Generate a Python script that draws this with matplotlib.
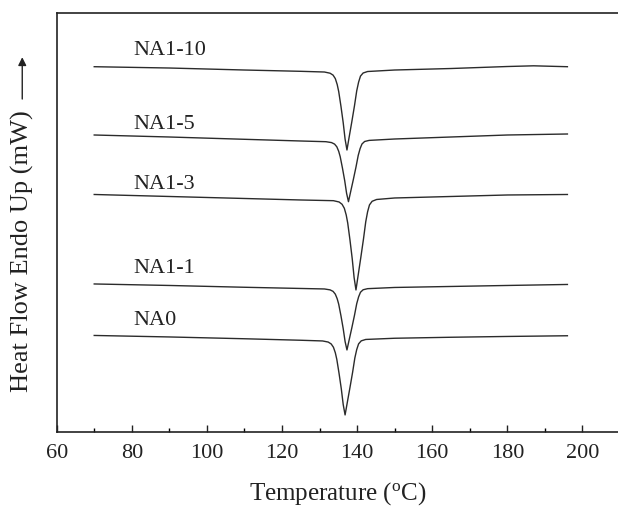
import matplotlib
matplotlib.use('Agg')
import matplotlib.pyplot as plt

plt.rcParams['font.family'] = ['Liberation Serif', 'DejaVu Serif']

# temperature (degC) and heat flow (a.u., offset per curve)
t_na1_10 = [70, 90, 110, 125, 131.3, 132.8, 133.6, 134.2, 134.7, 135.1, 135.7, 136.3, 136.8,
            137.3, 137.8, 138.6, 139.3, 139.9, 140.4, 140.9, 141.6, 142.8, 150, 165, 180, 187, 196]
hf_na1_10 = [365.0, 363.7, 361.7, 360.4, 359.7, 358.5, 356.6, 353.1, 347.2, 340.2, 325.4, 309.0, 292.6,
             281.7, 292.8, 310.1, 325.9, 340.9, 349.6, 355.6, 358.7, 360.2, 361.7, 363.2, 365.2, 365.9, 365.0]

t_na1_5 = [70, 90, 110, 125, 131.7, 133.2, 134.0, 134.6, 135.1, 135.5, 136.1, 136.7, 137.2,
           137.7, 138.2, 139.0, 139.7, 140.3, 140.8, 141.3, 142.0, 143.2, 150, 165, 180, 196]
hf_na1_5 = [296.7, 294.7, 292.4, 290.7, 290.0, 289.1, 287.6, 284.9, 280.4, 275.0, 263.6, 251.0, 238.4,
            230.0, 238.6, 252.2, 264.6, 276.3, 283.1, 287.7, 290.2, 291.3, 292.7, 294.7, 296.7, 297.7]

t_na1_3 = [70, 90, 110, 125, 133.7, 135.2, 136.0, 136.6, 137.1, 137.5, 138.1, 138.7, 139.2,
           139.7, 140.2, 141.0, 141.7, 142.3, 142.8, 143.3, 144.0, 145.2, 150, 165, 180, 196]
hf_na1_3 = [237.2, 235.2, 233.2, 231.7, 231.0, 229.7, 227.4, 223.4, 216.7, 208.7, 191.7, 173.0, 154.2,
            141.7, 154.4, 174.5, 192.7, 209.9, 220.0, 226.8, 230.4, 232.2, 233.7, 235.2, 236.7, 237.2]

t_na1_1 = [70, 90, 110, 125, 131.3, 132.8, 133.6, 134.2, 134.7, 135.1, 135.7, 136.3, 136.8,
           137.3, 137.8, 138.6, 139.3, 139.9, 140.4, 140.9, 141.6, 142.8, 150, 165, 180, 196]
hf_na1_1 = [147.7, 146.2, 144.4, 143.2, 142.7, 141.8, 140.3, 137.5, 132.9, 127.5, 115.9, 103.0, 90.2,
            81.7, 90.3, 103.9, 116.3, 128.0, 134.8, 139.4, 141.9, 143.0, 144.2, 145.2, 146.2, 147.2]

t_na0 = [70, 90, 110, 125, 130.8, 132.3, 133.1, 133.7, 134.2, 134.6, 135.2, 135.8, 136.3,
         136.8, 137.3, 138.1, 138.8, 139.4, 139.9, 140.4, 141.1, 142.3, 150, 165, 180, 196]
hf_na0 = [96.2, 94.7, 92.9, 91.4, 90.7, 89.6, 87.7, 84.4, 78.9, 72.2, 58.1, 42.6, 27.1,
          16.7, 27.3, 44.1, 59.3, 73.7, 82.1, 87.8, 90.8, 92.2, 93.4, 94.4, 95.2, 95.9]

labels = ['NA1-10', 'NA1-5', 'NA1-3', 'NA1-1', 'NA0']
label_y = [381, 307, 247, 163, 111]
xticks = [60, 80, 100, 120, 140, 160, 180, 200]

fig = plt.figure(figsize=(6.18, 5.09), dpi=100)
ax = fig.add_axes([0.0917, 0.152, 0.9115, 0.823])

curves = [(t_na1_10, hf_na1_10), (t_na1_5, hf_na1_5), (t_na1_3, hf_na1_3),
          (t_na1_1, hf_na1_1), (t_na0, hf_na0)]
for (t, hf), name, ly in zip(curves, labels, label_y):
    ax.plot(t, hf, color='#2b2b2b', lw=1.0, solid_joinstyle='round')
    ax.text(80.5, ly, name, fontsize=16, color='#222222', va='center', ha='left')

ax.set_xlim(60, 210)
ax.set_ylim(0, 419)
ax.set_xticks(xticks)
ax.set_xticks(range(70, 210, 20), minor=True)
ax.set_yticks([])
ax.tick_params(axis='x', which='major', direction='in', length=5, width=1,
               labelsize=16, pad=9, colors='#222222')
ax.tick_params(axis='x', which='minor', direction='in', length=3, width=1)
for s in ax.spines.values():
    s.set_linewidth(1.2)
    s.set_color('#222222')

ax.set_xlabel('Temperature ($\\mathregular{^{o}}$C)', fontsize=18, labelpad=12, color='#222222')

fig.text(0.036, 0.507, 'Heat Flow Endo Up (mW)', rotation=90, fontsize=19,
         ha='center', va='center', color='#222222')
ax.annotate('', xy=(0.036, 0.893), xytext=(0.036, 0.80), xycoords='figure fraction',
            arrowprops=dict(arrowstyle='-|>', color='#222222', lw=1.0, mutation_scale=12))

fig.savefig('out.png', dpi=100)
